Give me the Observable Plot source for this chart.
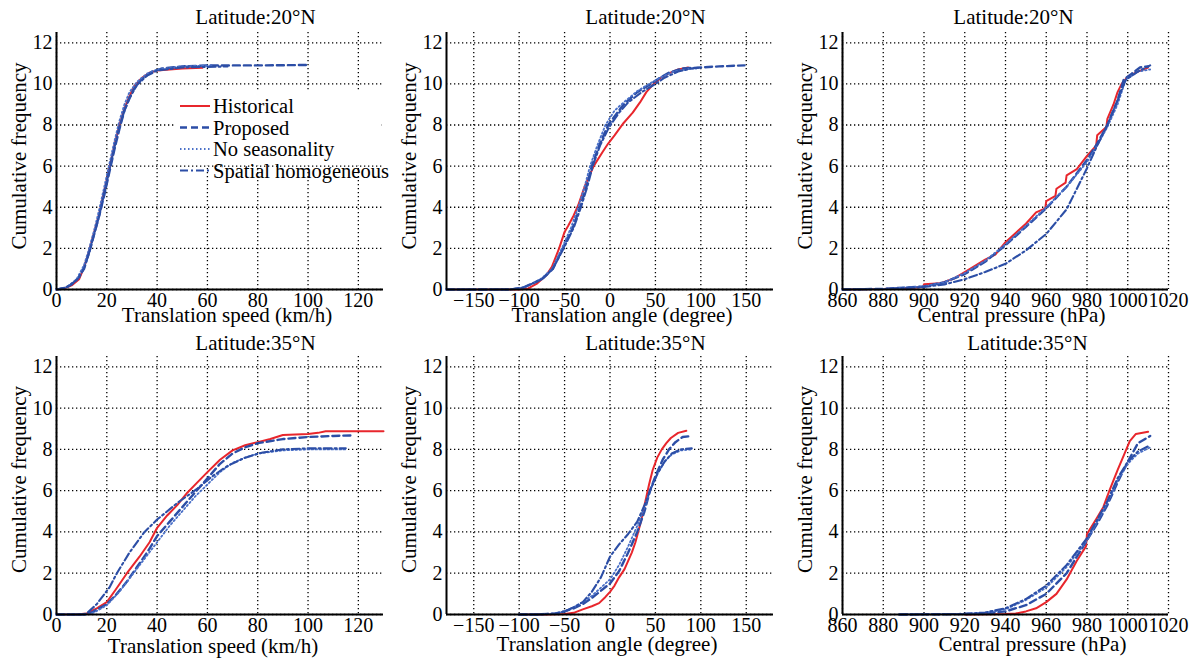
<!DOCTYPE html>
<html><head><meta charset="utf-8">
<script src="https://cdn.jsdelivr.net/npm/d3@7"></script>
<script src="https://cdn.jsdelivr.net/npm/@observablehq/plot@0.6"></script>
<style>
body{margin:0;background:#fff;}
#chart{position:relative;width:1200px;height:659px;overflow:hidden;background:#fff;}
.panel{position:absolute;}
.panel svg{display:block;max-width:none;background:none;}
</style></head><body><div id="chart"></div><script>
// ---------- tick values ----------
const freqTicks = [0, 2, 4, 6, 8, 10, 12];
const speedTicks = [0, 20, 40, 60, 80, 100, 120];
const angleTicks = [-150, -100, -50, 0, 50, 100, 150];
const pressureTicks = [860, 880, 900, 920, 940, 960, 980, 1000, 1020];
const seriesNames = ["Historical", "Proposed", "No seasonality", "Spatial homogeneous"];
const titles = ["Latitude:20°N", "Latitude:35°N"];
const xLabels = ["Translation speed (km/h)", "Translation angle (degree)", "Central pressure (hPa)"];
const yLabel = "Cumulative frequency";

// ---------- Latitude 20N : translation speed ----------
const speed20Historical = [[0,0],[3,0.05],[6,0.2],[9,0.5],[11,1.1],[13,1.9],[15,2.8],[17,3.7],[19,4.8],[21,5.9],[23,7.0],[25,8.0],[27,8.8],[29,9.4],[31,9.9],[34,10.3],[37,10.55],[40,10.65],[45,10.7],[50,10.75],[58,10.78]];
const speed20Proposed = [[0,0],[3,0.05],[6,0.25],[9,0.6],[11,1.1],[13,1.8],[15,2.7],[17,3.6],[19,4.6],[21,5.7],[23,6.8],[25,7.8],[27,8.7],[29,9.3],[31,9.8],[34,10.25],[38,10.6],[42,10.75],[50,10.85],[60,10.9],[80,10.9],[100,10.92]];
const speed20NoSeason = [[0,0],[4,0.1],[8,0.5],[11,1.2],[13,2.0],[15,2.9],[17,3.9],[19,5.0],[21,6.1],[23,7.2],[25,8.2],[27,9.0],[29,9.6],[32,10.1],[36,10.5],[40,10.7],[50,10.85],[62,10.9]];
const speed20SpatialHom = [[0,0],[4,0.1],[8,0.45],[11,1.0],[13,1.8],[15,2.7],[17,3.6],[19,4.7],[21,5.8],[23,6.9],[25,7.9],[27,8.7],[29,9.3],[32,9.95],[36,10.4],[40,10.65],[50,10.8],[68,10.85]];

// ---------- Latitude 20N : translation angle ----------
const angle20Historical = [[-180,0],[-100,0],[-90,0.05],[-80,0.3],[-70,0.7],[-64,1.1],[-56,2.0],[-50,2.8],[-46,3.1],[-40,3.6],[-35,4.1],[-28,5.0],[-18,6.0],[-8,6.7],[-2,7.1],[5,7.5],[15,8.1],[25,8.6],[33,9.1],[40,9.6],[48,10.0],[56,10.3],[64,10.5],[75,10.7],[86,10.8]];
const angle20Proposed = [[-180,0],[-110,0],[-95,0.1],[-85,0.3],[-75,0.5],[-63,1.0],[-52,2.0],[-41,3.0],[-33,4.0],[-26,5.0],[-20,6.0],[-12,7.0],[-2,8.0],[8,8.6],[15,9.0],[30,9.6],[45,10.0],[55,10.3],[65,10.55],[80,10.75],[100,10.8],[120,10.85],[148,10.9]];
const angle20NoSeason = [[-180,0],[-110,0],[-95,0.1],[-85,0.3],[-75,0.55],[-64,1.0],[-53,2.0],[-43,3.0],[-35,4.0],[-28,5.0],[-22,6.0],[-14,7.0],[-5,8.0],[5,8.7],[15,9.1],[30,9.65],[45,10.05],[55,10.3],[70,10.6],[90,10.75],[95,10.75]];
const angle20SpatialHom = [[-180,0],[-110,0],[-95,0.1],[-85,0.3],[-75,0.5],[-63,1.0],[-51,2.0],[-40,3.0],[-32,4.0],[-25,5.0],[-19,6.0],[-11,7.0],[-1,7.9],[10,8.6],[20,9.1],[35,9.6],[50,10.0],[60,10.3],[75,10.6],[90,10.75],[100,10.8]];

// ---------- Latitude 20N : central pressure ----------
const pressure20Historical = [[860,0],[880,0.02],[895,0.08],[899.5,0.12],[900,0.25],[908,0.3],[915,0.55],[920,0.85],[925,1.15],[930,1.45],[935,1.7],[940,2.3],[945,2.75],[950,3.2],[955,3.75],[959.5,3.95],[960,4.3],[964.5,4.55],[965,4.9],[969.5,5.2],[970,5.55],[975,5.85],[980,6.5],[984.5,7.0],[985,7.5],[989.5,7.9],[990,8.3],[993,9.0],[995,9.6],[997,10.0],[1000,10.35],[1005,10.6],[1010,10.8]];
const pressure20Proposed = [[860,0],[880,0.03],[900,0.15],[910,0.35],[920,0.75],[930,1.35],[940,2.15],[950,3.05],[960,3.95],[970,5.0],[980,6.3],[985,7.1],[990,8.0],[995,9.2],[998,10.2],[1002,10.5],[1006,10.8],[1010,10.85]];
const pressure20NoSeason = [[860,0],[880,0.03],[900,0.15],[910,0.35],[920,0.8],[930,1.4],[940,2.2],[950,3.1],[960,4.0],[970,5.0],[980,6.2],[985,7.0],[990,7.9],[995,9.0],[999,10.2],[1005,10.6],[1011,10.7]];
const pressure20SpatialHom = [[860,0],[880,0.02],[900,0.12],[910,0.25],[920,0.5],[930,0.85],[940,1.25],[950,1.9],[960,2.7],[970,3.9],[980,5.9],[985,7.0],[990,8.0],[995,9.2],[999,10.2],[1005,10.6],[1011,10.9]];

// ---------- Latitude 35N : translation speed ----------
const speed35Historical = [[0,0],[8,0],[12,0.05],[16,0.3],[20,0.6],[23.5,1.2],[28,2.0],[33,2.8],[37,3.5],[40,4.2],[44,4.8],[48,5.3],[52,5.9],[56,6.4],[60,6.9],[65,7.5],[70,7.95],[75,8.2],[80,8.35],[85,8.5],[90,8.7],[100,8.75],[104,8.8],[107,8.88],[130,8.88]];
const speed35Proposed = [[0,0],[11,0],[14,0.1],[20,0.5],[24,1.0],[28,1.6],[32,2.3],[36,3.0],[40,3.8],[45,4.5],[50,5.2],[55,5.9],[60,6.6],[65,7.3],[70,7.8],[75,8.1],[80,8.3],[90,8.5],[100,8.6],[110,8.65],[118,8.68]];
const speed35NoSeason = [[0,0],[12,0],[15,0.1],[20,0.45],[25,1.1],[30,1.9],[35,2.7],[40,3.5],[45,4.3],[50,5.0],[55,5.7],[60,6.3],[65,6.9],[70,7.35],[75,7.6],[80,7.8],[90,7.95],[100,8.0],[115,8.0]];
const speed35SpatialHom = [[0,0],[10,0],[12,0.05],[16,0.5],[21,1.3],[24,2.0],[29,3.0],[35,4.0],[40,4.6],[48,5.4],[56,6.1],[62,6.7],[68,7.2],[75,7.6],[82,7.85],[90,8.0],[100,8.05],[115,8.05]];

// ---------- Latitude 35N : translation angle ----------
const angle35Historical = [[-100,0],[-70,0],[-50,0.02],[-40,0.08],[-30,0.25],[-20,0.4],[-12,0.55],[-5,0.85],[0,1.1],[5,1.4],[10,1.8],[16,2.2],[20,2.6],[24,3.0],[28,3.5],[31,4.0],[34,4.5],[37,5.1],[40,5.7],[43,6.3],[47,7.0],[52,7.6],[57,8.0],[62,8.3],[67,8.55],[75,8.8],[84,8.9]];
const angle35Proposed = [[-100,0],[-80,0],[-60,0.05],[-50,0.15],[-40,0.3],[-30,0.5],[-20,0.8],[-10,1.15],[0,1.5],[10,2.1],[20,3.0],[30,4.0],[38,5.0],[44,6.0],[50,6.7],[58,7.5],[65,8.0],[72,8.35],[80,8.6],[90,8.65]];
const angle35NoSeason = [[-100,0],[-80,0],[-60,0.05],[-50,0.15],[-40,0.35],[-30,0.6],[-20,0.9],[-10,1.3],[0,1.7],[10,2.4],[20,3.3],[30,4.3],[38,5.2],[45,6.1],[52,6.8],[60,7.4],[68,7.75],[78,7.95],[90,8.0]];
const angle35SpatialHom = [[-100,0],[-80,0],[-60,0.05],[-50,0.15],[-40,0.35],[-30,0.6],[-20,1.1],[-10,1.8],[0,2.8],[10,3.4],[20,3.9],[30,4.5],[38,5.3],[45,6.1],[52,6.8],[60,7.4],[68,7.8],[78,8.0],[90,8.05]];

// ---------- Latitude 35N : central pressure ----------
const pressure35Historical = [[920,0],[940,0.02],[945,0.05],[950,0.15],[955,0.3],[960,0.6],[965,1.0],[970,1.7],[975,2.6],[979.5,3.3],[980,3.9],[985,4.7],[988,5.2],[991,6.0],[995,7.0],[998,7.7],[1001,8.4],[1004,8.75],[1010,8.85]];
const pressure35Proposed = [[888,0],[920,0.02],[930,0.05],[940,0.15],[950,0.45],[960,1.0],[970,2.0],[980,3.6],[985,4.4],[990,5.3],[995,6.4],[1000,7.4],[1005,8.3],[1011,8.65]];
const pressure35NoSeason = [[888,0],[920,0.03],[930,0.08],[940,0.25],[950,0.7],[960,1.3],[970,2.3],[980,3.6],[990,5.4],[995,6.5],[1000,7.3],[1005,7.8],[1011,8.1]];
const pressure35SpatialHom = [[888,0],[920,0.03],[930,0.1],[940,0.3],[950,0.75],[960,1.4],[970,2.4],[980,3.7],[990,5.5],[995,6.6],[1000,7.4],[1005,7.9],[1011,8.2]];

// ---------- styles ----------
const seriesStyle = [
  {stroke: "#e8262c", strokeWidth: 2, strokeDasharray: null},
  {stroke: "#2c4ea6", strokeWidth: 2.4, strokeDasharray: "7,4"},
  {stroke: "#4a70c8", strokeWidth: 1.8, strokeDasharray: "1.5,2.5"},
  {stroke: "#2c4ea6", strokeWidth: 2.1, strokeDasharray: "8,3,2,3"}
];
const FONT = "Liberation Serif, Times New Roman, serif";

const panels = [
  {left: 0,   top: 0,   h: 325, mb: 36, xDomain: [0, 130],    xTicks: speedTicks,    xLabel: xLabels[0], title: titles[0], tdx: 35.5, tdy: -15, ldx: 7,  ldy: 26, ydy: -5,
   data: [speed20Historical, speed20Proposed, speed20NoSeason, speed20SpatialHom]},
  {left: 390, top: 0,   h: 325, mb: 36, xDomain: [-180, 180], xTicks: angleTicks,    xLabel: xLabels[1], title: titles[0], tdx: 35.5, tdy: -15, ldx: 12, ldy: 26, ydy: -5,
   data: [angle20Historical, angle20Proposed, angle20NoSeason, angle20SpatialHom]},
  {left: 786, top: 0,   h: 325, mb: 36, xDomain: [860, 1020], xTicks: pressureTicks, xLabel: xLabels[2], title: titles[0], tdx: 8,    tdy: -15, ldx: 6,  ldy: 26, ydy: -5,
   data: [pressure20Historical, pressure20Proposed, pressure20NoSeason, pressure20SpatialHom]},
  {left: 0,   top: 324, h: 335, mb: 45, xDomain: [0, 130],    xTicks: speedTicks,    xLabel: xLabels[0], title: titles[1], tdx: 35.5, tdy: -13, ldx: -7, ldy: 32, ydy: -6,
   data: [speed35Historical, speed35Proposed, speed35NoSeason, speed35SpatialHom]},
  {left: 390, top: 324, h: 335, mb: 45, xDomain: [-180, 180], xTicks: angleTicks,    xLabel: xLabels[1], title: titles[1], tdx: 35.5, tdy: -13, ldx: -3, ldy: 30, ydy: -6,
   data: [angle35Historical, angle35Proposed, angle35NoSeason, angle35SpatialHom]},
  {left: 786, top: 324, h: 335, mb: 45, xDomain: [860, 1020], xTicks: pressureTicks, xLabel: xLabels[2], title: titles[1], tdx: 22,   tdy: -13, ldx: 27, ldy: 30, ydy: -6,
   data: [pressure35Historical, pressure35Proposed, pressure35NoSeason, pressure35SpatialHom]}
];
const widths = [415, 415, 414];

const chart = document.getElementById("chart");
const fmt = d3.format("d");

panels.forEach((p, i) => {
  const lineMarks = p.data.map((arr, s) => Plot.line(arr, {
    x: d => d[0], y: d => d[1],
    stroke: seriesStyle[s].stroke,
    strokeWidth: seriesStyle[s].strokeWidth,
    strokeDasharray: seriesStyle[s].strokeDasharray,
    strokeLinejoin: "round"
  }));
  const svg = Plot.plot({
    width: widths[i % 3],
    height: p.h,
    marginLeft: 56, marginRight: widths[i % 3] - 56 - (i % 3 === 2 ? 326 : 327),
    marginTop: 32, marginBottom: p.mb,
    style: {fontFamily: FONT, fontSize: "20px", color: "#000", background: "none", overflow: "visible"},
    x: {domain: p.xDomain},
    y: {domain: [0, 12.5]},
    marks: [
      Plot.gridX(p.xTicks, {stroke: "#000", strokeOpacity: 1, strokeWidth: 1.3, strokeDasharray: "1.3,2.7"}),
      Plot.gridY(freqTicks, {stroke: "#000", strokeOpacity: 1, strokeWidth: 1.3, strokeDasharray: "1.3,2.7"}),
      ...lineMarks,
      Plot.ruleX([p.xDomain[0]], {stroke: "#000", strokeWidth: 2}),
      Plot.ruleY([0], {stroke: "#000", strokeWidth: 2}),
      Plot.axisX(p.xTicks, {tickSize: 0, tickPadding: 3, tickFormat: fmt, label: null, fontSize: 20}),
      Plot.axisY(freqTicks, {tickSize: 0, tickPadding: 4, tickFormat: fmt, label: null, fontSize: 20}),
      Plot.text([p.xLabel], {text: d => d, frameAnchor: "bottom", textAnchor: "middle", lineAnchor: "middle", dx: p.ldx, dy: p.ldy, fontSize: 21}),
      Plot.text([yLabel], {text: d => d, frameAnchor: "left", textAnchor: "middle", rotate: -90, lineAnchor: "middle", dx: -37.5, dy: p.ydy, fontSize: 21}),
      Plot.text([p.title], {text: d => d, frameAnchor: "top", textAnchor: "middle", lineAnchor: "middle", dx: p.tdx, dy: p.tdy, fontSize: 21})
    ]
  });
  const div = document.createElement("div");
  div.className = "panel";
  div.style.left = p.left + "px";
  div.style.top = p.top + "px";
  div.appendChild(svg);
  chart.appendChild(div);
});

// ---------- legend (inside first panel) ----------
const ns = "http://www.w3.org/2000/svg";
const leg = document.createElementNS(ns, "svg");
leg.setAttribute("width", 400); leg.setAttribute("height", 200);
leg.style.position = "absolute"; leg.style.left = "0px"; leg.style.top = "0px";
const box = document.createElementNS(ns, "rect");
box.setAttribute("x", 176); box.setAttribute("y", 92); box.setAttribute("width", 205); box.setAttribute("height", 73);
box.setAttribute("fill", "#fff");
leg.appendChild(box);
const rowY = [106, 127.5, 149, 170.5];
seriesNames.forEach((name, s) => {
  const ln = document.createElementNS(ns, "line");
  ln.setAttribute("x1", 180); ln.setAttribute("x2", 210);
  ln.setAttribute("y1", rowY[s]); ln.setAttribute("y2", rowY[s]);
  ln.setAttribute("stroke", seriesStyle[s].stroke);
  ln.setAttribute("stroke-width", seriesStyle[s].strokeWidth);
  if (seriesStyle[s].strokeDasharray) ln.setAttribute("stroke-dasharray", seriesStyle[s].strokeDasharray);
  leg.appendChild(ln);
  const t = document.createElementNS(ns, "text");
  t.setAttribute("x", 213); t.setAttribute("y", rowY[s]);
  t.setAttribute("dy", "0.35em");
  t.setAttribute("font-family", FONT); t.setAttribute("font-size", 20.5);
  t.textContent = name;
  leg.appendChild(t);
});
chart.appendChild(leg);
</script></body></html>
